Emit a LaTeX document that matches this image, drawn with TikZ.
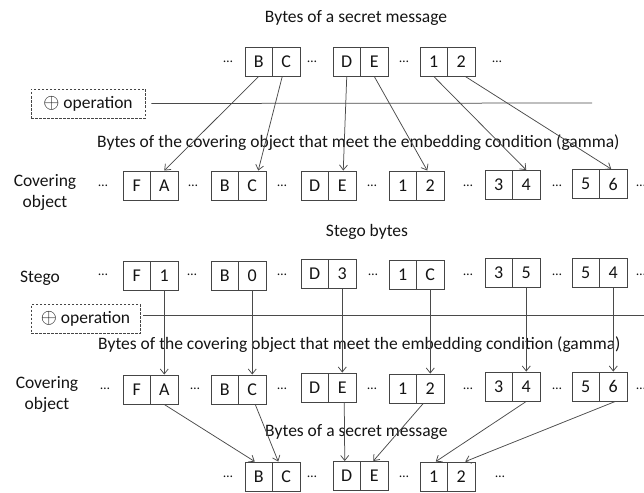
\documentclass[tikz,border=0pt]{standalone}
\usepackage{fontspec}
\setmainfont{Carlito}
\usetikzlibrary{arrows.meta}

\definecolor{txt}{HTML}{141414}
\definecolor{boxgray}{HTML}{454545}
\definecolor{linegray}{HTML}{4A4A4A}

\tikzset{
  half/.style={draw=boxgray, line width=0.9pt, minimum width=27.5pt,
    minimum height=29pt, inner sep=0pt, text=txt,
    font=\fontsize{18}{18}\selectfont},
  dotsym/.style={inner sep=0pt, text=txt, font=\fontsize{13.5}{13.5}\selectfont},
  lbl/.style={inner sep=0pt, text=txt, font=\fontsize{17.5}{21}\selectfont},
  link/.style={draw=linegray, line width=0.75pt},
  arr/.style={link, -{Straight Barb[length=5pt,width=8pt]}},
  opbox/.style={draw=boxgray, line width=0.8pt, dash pattern=on 2.5pt off 1.5pt,
    minimum height=29pt, inner sep=0pt, text=txt,
    font=\fontsize{17.5}{18}\selectfont}
}

% one byte pair: name prefix, left edge, row centre, left symbol, right symbol
\newcommand\bytepair[5]{%
  \node[half] (#1a) at ({#2+13.75},#3) {#4};
  \node[half] (#1b) at ({#2+41.25},#3) {#5};}
% the xor sign in front of "operation"
\newcommand\xorsign{{\fontsize{21}{21}\selectfont$\oplus$}}

\begin{document}
\begin{tikzpicture}[x=1pt,y=-1pt]
\useasboundingbox (0,0) rectangle (644,492);

% ---------- embedding: secret bytes into the covering object ----------
\node[lbl] (title1) at (356,18) {Bytes of a secret message};
\bytepair{top1}{245}{61.5}{B}{C}
\bytepair{top2}{333}{61.5}{D}{E}
\bytepair{top3}{420}{61.5}{1}{2}
\foreach \x [count=\i] in {228,312,404,497}
  \node[dotsym] (topd\i) at (\x,61.5) {…};

\node[opbox, minimum width=114pt] (op1) at (88,103.5) {\xorsign\ operation};
\coordinate (op1end) at (592,103);

\node[lbl, anchor=west] (cap1) at (97,143) {Bytes of the covering object that meet the embedding condition (gamma)};

\node[lbl, align=center] (covlab1) at (45,192.5) {Covering\\object};
\bytepair{cova1}{123}{185.5}{F}{A}
\bytepair{cova2}{211}{185.5}{B}{C}
\bytepair{cova3}{301}{185.5}{D}{E}
\bytepair{cova4}{389}{185.5}{1}{2}
\bytepair{cova5}{485}{185}{3}{4}
\bytepair{cova6}{572}{184}{5}{6}
\foreach \x [count=\i] in {103,193,282,372,468,557,641}
  \node[dotsym] (covad\i) at (\x,185.5) {…};

\draw[link] ([xshift=6pt]op1.east) -- (op1end);

\draw[arr] (top1a.south) -- (cova1b.north);
\draw[arr] ([xshift=-4pt]top1b.south) -- ([xshift=6pt]cova2b.north);
\draw[arr] (top2a.south) -- ([xshift=1pt]cova3b.north);
\draw[arr] (top2b.south) -- ([xshift=-3pt]cova4b.north);
\draw[arr] (top3a.south) -- (cova5b.north);
\draw[arr] ([xshift=4pt]top3b.south) -- ([xshift=-2pt]cova6b.north);

% ---------- extraction: stego bytes back to the secret ----------
\node[lbl] (title2) at (367,232) {Stego bytes};

\node[lbl] (steglab) at (40,278) {Stego};
\bytepair{steg1}{123}{275.5}{F}{1}
\bytepair{steg2}{211}{275.5}{B}{0}
\bytepair{steg3}{301}{274}{D}{3}
\bytepair{steg4}{389}{274.5}{1}{C}
\bytepair{steg5}{485}{273}{3}{5}
\bytepair{steg6}{572}{273}{5}{4}
\foreach \x [count=\i] in {103,192,282,373,468,557,641}
  \node[dotsym] (stegd\i) at (\x,275) {…};

\node[opbox, minimum width=109pt] (op2) at (85.5,319) {\xorsign\ operation};
\coordinate (op2end) at (644,315);

\node[lbl, anchor=west] (cap2) at (98,345) {Bytes of the covering object that meet the embedding condition (gamma)};

\node[lbl, align=center] (covlab2) at (47,394.5) {Covering\\object};
\bytepair{covb1}{123}{389.5}{F}{A}
\bytepair{covb2}{211}{389.5}{B}{C}
\bytepair{covb3}{301}{387.5}{D}{E}
\bytepair{covb4}{389}{388.5}{1}{2}
\bytepair{covb5}{485}{386.5}{3}{4}
\bytepair{covb6}{572}{386.5}{5}{6}
\foreach \x [count=\i] in {105,195,282,372,468,557,641}
  \node[dotsym] (covbd\i) at (\x,388.5) {…};

\draw[link] ([xshift=3pt]op2.east |- op2end) -- (op2end);

\foreach \i in {1,...,6}
  \draw[arr] (steg\i b.south) -- (steg\i b.south |- covb\i b.north);

\node[lbl, anchor=west] (title3) at (265,432) {Bytes of a secret message};
\bytepair{bot1}{245}{476.5}{B}{C}
\bytepair{bot2}{333}{476}{D}{E}
\bytepair{bot3}{420}{476.5}{1}{2}
\foreach \x [count=\i] in {228,312,404,500}
  \node[dotsym] (botd\i) at (\x,476.5) {…};

\draw[arr] (covb1b.south) -- ([xshift=-4pt]bot1a.north);
\draw[arr] ([xshift=3pt]covb2b.south) -- ([xshift=-8pt]bot1b.north);
\draw[arr] ([xshift=2pt]covb3b.south) -- ([xshift=-2pt]bot2a.north);
\draw[arr] ([xshift=-7pt]covb4b.south) -- ([xshift=-1pt]bot2b.north);
\draw[arr] (covb5b.south) -- ([xshift=2pt]bot3a.north);
\draw[arr] ([xshift=2pt]covb6b.south) -- ([xshift=4pt]bot3b.north);
\end{tikzpicture}
\end{document}
